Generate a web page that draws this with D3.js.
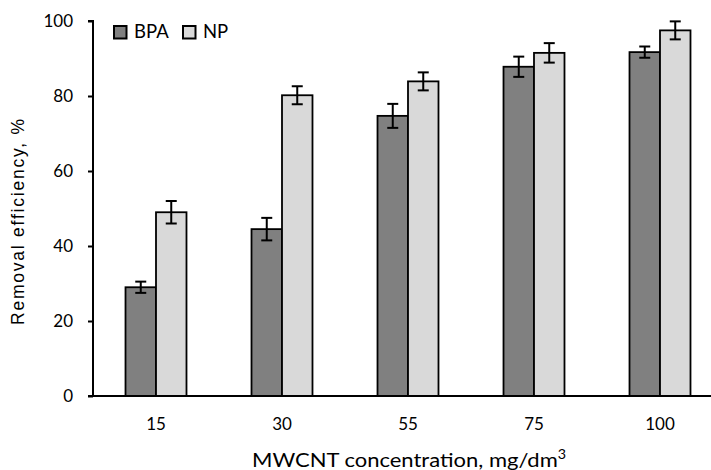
<!DOCTYPE html>
<html><head><meta charset="utf-8">
<script src="https://cdn.jsdelivr.net/npm/d3@7"></script>
<style>body{margin:0;background:#fff;} svg{display:block;}</style>
</head><body>
<svg id="c" width="711" height="470"></svg>
<script>
const categories = ["15", "30", "55", "75", "100"];
const seriesNames = ["BPA", "NP"];
const bpaValues = [29.0, 44.5, 74.7, 87.8, 91.7];
const bpaErrors = [1.5, 3.0, 3.2, 2.7, 1.5];
const npValues = [49.0, 80.2, 83.9, 91.5, 97.5];
const npErrors = [3.0, 2.4, 2.4, 2.6, 2.4];
const yTicks = [0, 20, 40, 60, 80, 100];
const colors = {BPA: "#808080", NP: "#d9d9d9"};

(function () {
const svg = d3.select("#c");
const font = "Lato, 'Open Sans', sans-serif";
const mLeft = 93, mRight = 723, mTop = 21, mBottom = 396;
const x = d3.scaleBand().domain(categories).range([mLeft, mRight]).paddingInner(0.516).paddingOuter(0.258);
const xs = d3.scaleBand().domain(seriesNames).range([0, x.bandwidth()]);
const y = d3.scaleLinear().domain([0, 100]).range([mBottom, mTop]);

const data = categories.map((c, i) => ({c, vals: [
  {s: "BPA", v: bpaValues[i], e: bpaErrors[i]},
  {s: "NP", v: npValues[i], e: npErrors[i]}]}));

const g = svg.append("g");
data.forEach(d => {
  d.vals.forEach(b => {
    const bx = x(d.c) + xs(b.s);
    g.append("rect").attr("x", bx).attr("y", y(b.v))
      .attr("width", xs.bandwidth()).attr("height", y(0) - y(b.v))
      .attr("fill", colors[b.s]).attr("stroke", "#000").attr("stroke-width", 1.8);
  });
});
data.forEach(d => {
  d.vals.forEach(b => {
    const cx = x(d.c) + xs(b.s) + xs.bandwidth() / 2;
    const eg = g.append("g").attr("stroke", "#000").attr("stroke-width", 2);
    eg.append("line").attr("x1", cx).attr("x2", cx).attr("y1", y(b.v + b.e)).attr("y2", y(b.v - b.e));
    eg.append("line").attr("x1", cx - 5.5).attr("x2", cx + 5.5).attr("y1", y(b.v + b.e)).attr("y2", y(b.v + b.e));
    eg.append("line").attr("x1", cx - 5.5).attr("x2", cx + 5.5).attr("y1", y(b.v - b.e)).attr("y2", y(b.v - b.e));
  });
});

const ya = svg.append("g").attr("transform", `translate(${mLeft},0)`)
  .call(d3.axisLeft(y).tickValues(yTicks).tickSize(5).tickPadding(15));
ya.select(".domain").attr("stroke-width", 2).attr("d", `M-5,${mTop}H0V${mBottom}`);
ya.selectAll(".tick line").attr("stroke-width", 2);
ya.selectAll("text").attr("font-family", font).attr("font-size", 17).attr("fill", "#000");

const xa = svg.append("g").attr("transform", `translate(0,${mBottom})`)
  .call(d3.axisBottom(x).tickSize(0).tickPadding(22));
xa.select(".domain").attr("stroke-width", 2).attr("d", `M${mLeft - 5},0H${mRight}`);
xa.selectAll("text").attr("font-family", font).attr("font-size", 17).attr("fill", "#000");

svg.append("text").attr("transform", "translate(24,222) rotate(-90)")
  .attr("text-anchor", "middle").attr("font-family", "'Liberation Sans', Arial, sans-serif")
  .attr("font-size", 17.5).attr("textLength", 206).attr("lengthAdjust", "spacing")
  .text("Removal  efficiency, %");

const xtg = svg.append("g").attr("transform", "translate(409,466.5) scale(1.1,1)");
const xt = xtg.append("text").attr("x", 0).attr("y", 0).attr("text-anchor", "middle")
  .attr("font-family", font).attr("font-size", 20);
xt.append("tspan").text("MWCNT concentration, mg/dm");
xt.append("tspan").attr("dy", -8).attr("font-size", 13).text("3");

const lg = svg.append("g").attr("transform", "translate(114,26)");
[0, 69].forEach((gx, i) => {
  const s = seriesNames[i];
  lg.append("rect").attr("x", gx).attr("y", 0).attr("width", 12.5).attr("height", 12.5)
    .attr("fill", colors[s]).attr("stroke", "#000").attr("stroke-width", 2);
  lg.append("text").attr("x", gx + 20).attr("y", 12).attr("font-family", font)
    .attr("font-size", 18.5).text(s);
});
})();
</script>
</body></html>
